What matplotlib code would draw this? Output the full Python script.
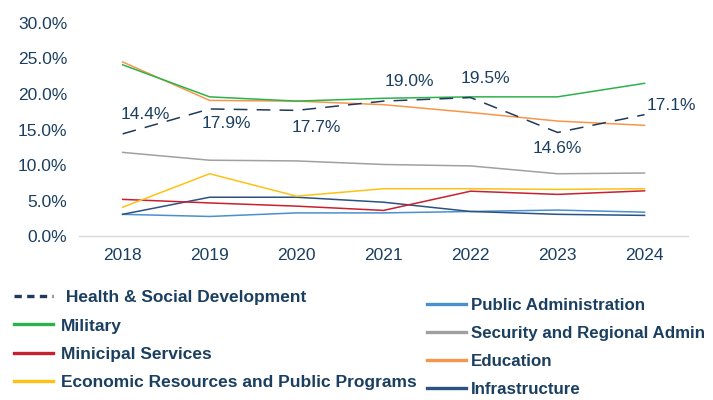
import matplotlib
matplotlib.use('Agg')
import matplotlib.pyplot as plt
from matplotlib.lines import Line2D
from matplotlib.ticker import FuncFormatter

plt.rcParams['font.family'] = ['Liberation Sans', 'DejaVu Sans']

# --- Data (share of total, %) ---
years = ['2018', '2019', '2020', '2021', '2022', '2023', '2024']
health = [14.4, 17.9, 17.7, 19.0, 19.5, 14.6, 17.1]
military = [24.1, 19.6, 19.0, 19.4, 19.6, 19.6, 21.5]
municipal = [5.2, 4.7, 4.25, 3.65, 6.35, 5.9, 6.4]
economic = [4.1, 8.8, 5.65, 6.7, 6.7, 6.6, 6.7]
public_admin = [3.1, 2.8, 3.3, 3.3, 3.5, 3.7, 3.4]
security = [11.8, 10.7, 10.6, 10.1, 9.9, 8.8, 8.9]
education = [24.5, 19.1, 19.0, 18.5, 17.4, 16.2, 15.6]
infrastructure = [3.1, 5.5, 5.5, 4.8, 3.5, 3.1, 2.95]

# label offsets (points) for the Health & Social Development values
label_offsets = [(16.5, 13.7), (12, -10.8), (14.4, -12.2), (18.7, 14.2),
                 (10.8, 14), (0, -11.2), (19.5, 6.6)]

TEXT = '#1b3f60'
C_HEALTH = '#1f3a5a'
C_MIL = '#2cb24b'
C_MUN = '#c8202f'
C_ECO = '#ffc114'
C_PUB = '#4a8fd0'
C_SEC = '#a0a0a0'
C_EDU = '#f7964a'
C_INF = '#2b5281'

fig = plt.figure(figsize=(7.13, 4.0), dpi=100)
ax = fig.add_axes([0.111, 0.409, 0.854, 0.534])

x = list(range(len(years)))
lw = 1.1
ax.plot(x, public_admin, color=C_PUB, lw=lw)
ax.plot(x, infrastructure, color=C_INF, lw=lw)
ax.plot(x, municipal, color=C_MUN, lw=lw)
ax.plot(x, economic, color=C_ECO, lw=lw)
ax.plot(x, security, color=C_SEC, lw=lw)
ax.plot(x, education, color=C_EDU, lw=lw)
ax.plot(x, military, color=C_MIL, lw=lw)
ax.plot(x, health, color=C_HEALTH, lw=lw, linestyle=(0, (9, 6)))

for xi, v, off in zip(x, health, label_offsets):
    ax.annotate(f'{v:.1f}%', (xi, v), xytext=off, textcoords='offset points',
                ha='center', va='center', fontsize=12.5, color=TEXT)

ax.set_xlim(-0.5, 6.5)
ax.set_ylim(0, 30)
ax.set_yticks([0, 5, 10, 15, 20, 25, 30])
ax.yaxis.set_major_formatter(FuncFormatter(lambda v, p: f'{v:.1f}%'))
ax.set_xticks(x)
ax.set_xticklabels(years)
ax.tick_params(length=0, labelsize=12.5, labelcolor=TEXT)
ax.tick_params(axis='y', pad=8.5)
ax.tick_params(axis='x', pad=8)
for s in ['top', 'right', 'left']:
    ax.spines[s].set_visible(False)
ax.spines['bottom'].set_color('#d9d9d9')
ax.spines['bottom'].set_linewidth(1)

# --- Legends: two columns below the plot ---
hlw = 2.4
left_handles = [
    Line2D([], [], color=C_HEALTH, lw=hlw, linestyle=(0, (2.2, 1.6))),
    Line2D([], [], color=C_MIL, lw=hlw),
    Line2D([], [], color=C_MUN, lw=hlw),
    Line2D([], [], color=C_ECO, lw=hlw),
]
left_labels = [' Health & Social Development', 'Military', 'Minicipal Services',
               'Economic Resources and Public Programs']
right_handles = [
    Line2D([], [], color=C_PUB, lw=hlw),
    Line2D([], [], color=C_SEC, lw=hlw),
    Line2D([], [], color=C_EDU, lw=hlw),
    Line2D([], [], color=C_INF, lw=hlw),
]
right_labels = ['Public Administration', 'Security and Regional Admin',
                'Education', 'Infrastructure']

common = dict(frameon=False, loc='upper left', borderpad=0, borderaxespad=0,
              labelspacing=0.76, labelcolor=TEXT)
fig.legend(left_handles, left_labels, bbox_to_anchor=(0.0196, 0.275),
           handlelength=2.25, handletextpad=0.45,
           prop={'size': 12.5, 'weight': 'bold'}, **common)
fig.legend(right_handles, right_labels, bbox_to_anchor=(0.599, 0.255),
           handlelength=2.3, handletextpad=0.3,
           prop={'size': 12.2, 'weight': 'bold'}, **common)

fig.savefig('out.png', dpi=100)
